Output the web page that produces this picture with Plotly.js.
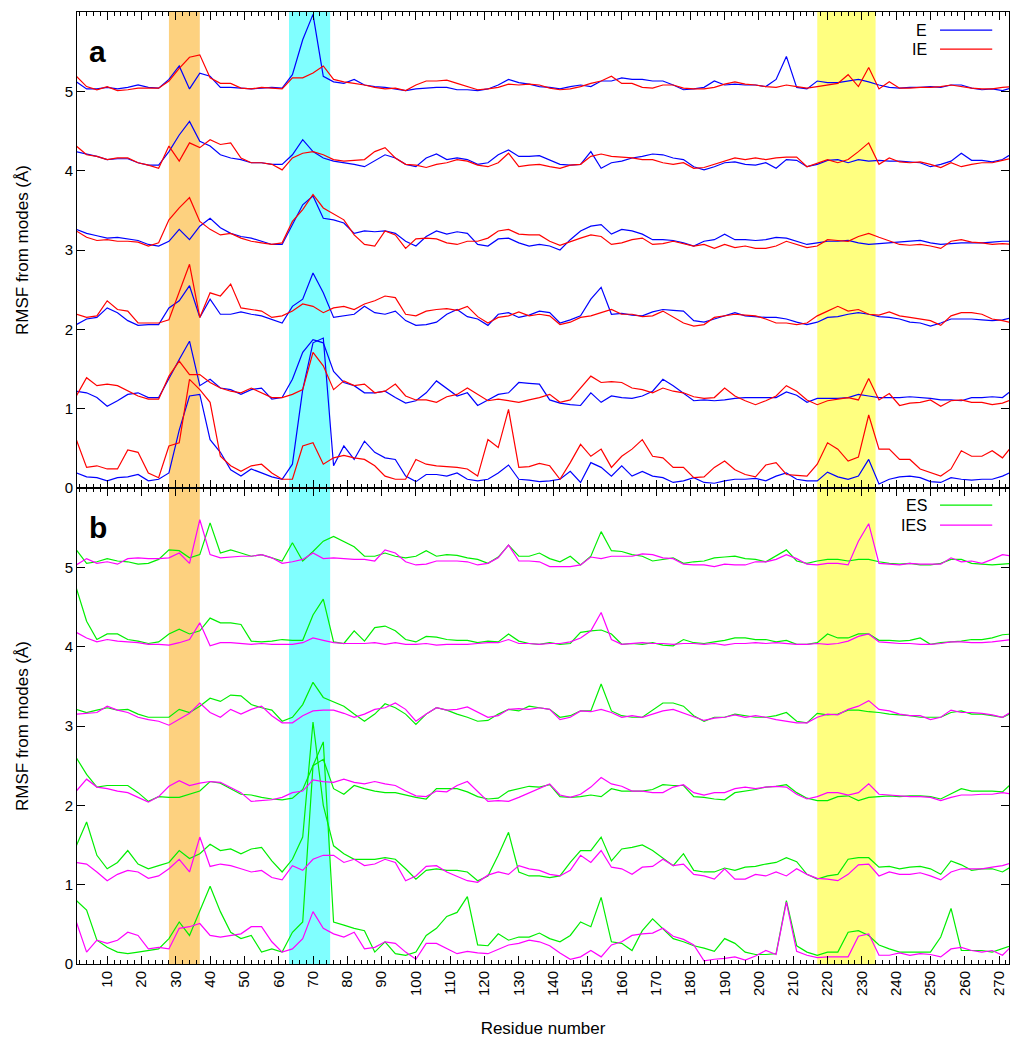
<!DOCTYPE html>
<html><head><meta charset="utf-8">
<script src="https://cdn.plot.ly/plotly-3.0.1.min.js"></script>
<style>body{margin:0;background:#fff}#chart{width:1010px;height:1040px}</style>
</head><body><div id="chart"></div>
<script>
// Sampled residue numbers
const residues = [1,4,7,10,13,16,19,22,25,28,31,34,37,40,43,46,49,52,55,58,61,64,67,70,73,76,79,82,85,88,91,
94,97,100,103,106,109,112,115,118,121,124,127,130,133,136,139,142,145,148,151,154,157,160,163,166,169,172,175,178,181,
184,187,190,193,196,199,202,205,208,211,214,217,220,223,226,229,232,235,238,241,244,247,250,253,256,259,262,265,268,271,274];

// Vertical offset applied to each mode (modes 1..6 stacked)
const modeOffsets = [0,1,2,3,4,5];

// Highlighted residue ranges
const bandStarts = [28, 63, 217];
const bandEnds   = [37, 75, 234];

// Panel a: E (blue) and IE (red), RMSF per mode (before offset)
const E0 = [0.19,0.14,0.13,0.09,0.13,0.14,0.17,0.09,0.11,0.19,0.73,1.16,1.18,0.61,0.45,0.23,0.15,0.24,0.19,0.14,0.11,0.30,1.24,1.83,1.89,0.28,0.53,0.36,0.59,0.45,0.38,
0.36,0.15,0.08,0.17,0.17,0.15,0.19,0.11,0.09,0.11,0.19,0.29,0.11,0.10,0.08,0.09,0.11,0.21,0.07,0.32,0.26,0.15,0.28,0.15,0.21,0.15,0.13,0.07,0.09,0.13,
0.07,0.06,0.09,0.11,0.11,0.12,0.09,0.15,0.19,0.11,0.09,0.09,0.20,0.14,0.11,0.15,0.36,0.05,0.11,0.14,0.15,0.13,0.08,0.07,0.13,0.11,0.10,0.11,0.11,0.15,0.21];
const IE0 = [0.61,0.26,0.28,0.24,0.24,0.48,0.45,0.19,0.13,0.53,0.57,1.37,1.24,1.08,0.40,0.28,0.21,0.28,0.30,0.19,0.11,0.11,0.53,0.57,0.30,0.38,0.41,0.38,0.36,0.28,0.15,
0.11,0.11,0.36,0.30,0.28,0.27,0.26,0.24,0.15,0.61,0.51,0.99,0.26,0.27,0.31,0.28,0.11,0.32,0.55,0.40,0.49,0.26,0.40,0.49,0.61,0.40,0.38,0.26,0.26,0.13,
0.14,0.26,0.34,0.23,0.17,0.14,0.29,0.32,0.17,0.16,0.15,0.30,0.57,0.49,0.34,0.39,0.92,0.49,0.49,0.36,0.36,0.24,0.19,0.15,0.24,0.47,0.40,0.40,0.47,0.38,0.54];
const E1 = [0.22,0.20,0.14,0.03,0.10,0.18,0.20,0.14,0.14,0.39,0.62,0.85,0.29,0.37,0.26,0.24,0.18,0.24,0.26,0.12,0.14,0.37,0.71,0.87,0.83,0.47,0.33,0.29,0.20,0.20,0.22,
0.14,0.07,0.10,0.20,0.35,0.26,0.16,0.20,0.04,0.11,0.18,0.20,0.33,0.32,0.31,0.11,0.07,0.05,0.04,0.20,0.08,0.16,0.14,0.13,0.16,0.22,0.37,0.29,0.20,0.10,
0.11,0.10,0.11,0.13,0.14,0.14,0.14,0.14,0.21,0.17,0.08,0.13,0.13,0.13,0.14,0.18,0.16,0.14,0.14,0.14,0.15,0.14,0.13,0.11,0.11,0.10,0.14,0.14,0.15,0.14,0.24];
const IE1 = [0.16,0.39,0.29,0.31,0.29,0.22,0.16,0.12,0.12,0.41,0.60,0.43,0.43,0.33,0.26,0.22,0.20,0.26,0.20,0.14,0.14,0.18,0.24,0.71,0.54,0.24,0.35,0.29,0.31,0.20,0.22,
0.31,0.16,0.11,0.11,0.08,0.15,0.18,0.26,0.18,0.10,0.12,0.10,0.08,0.11,0.14,0.18,0.08,0.11,0.26,0.41,0.33,0.34,0.33,0.26,0.24,0.20,0.26,0.22,0.20,0.15,
0.13,0.14,0.26,0.16,0.10,0.05,0.10,0.16,0.29,0.22,0.11,0.05,0.10,0.12,0.14,0.11,0.38,0.11,0.19,0.04,0.07,0.08,0.11,0.03,0.10,0.11,0.08,0.08,0.05,0.07,0.12];
const E2 = [0.06,0.13,0.15,0.27,0.21,0.11,0.05,0.06,0.06,0.27,0.36,0.55,0.15,0.38,0.19,0.19,0.22,0.19,0.17,0.12,0.08,0.29,0.38,0.71,0.46,0.15,0.17,0.19,0.29,0.21,0.19,
0.23,0.11,0.05,0.06,0.09,0.19,0.25,0.16,0.13,0.05,0.19,0.21,0.15,0.18,0.23,0.21,0.08,0.12,0.17,0.38,0.53,0.19,0.20,0.18,0.17,0.22,0.25,0.24,0.23,0.11,
0.09,0.13,0.17,0.21,0.17,0.16,0.15,0.15,0.13,0.09,0.06,0.09,0.15,0.16,0.19,0.21,0.19,0.16,0.15,0.13,0.09,0.08,0.04,0.08,0.13,0.13,0.13,0.12,0.11,0.12,0.15];
const IE2 = [0.19,0.15,0.17,0.36,0.25,0.23,0.08,0.08,0.08,0.12,0.46,0.82,0.15,0.46,0.42,0.57,0.27,0.25,0.23,0.15,0.17,0.23,0.32,0.29,0.21,0.27,0.29,0.25,0.32,0.36,0.42,
0.40,0.19,0.17,0.23,0.25,0.26,0.24,0.29,0.16,0.08,0.15,0.17,0.22,0.17,0.19,0.17,0.06,0.09,0.15,0.17,0.21,0.25,0.19,0.19,0.16,0.17,0.23,0.16,0.08,0.04,
0.06,0.15,0.17,0.19,0.18,0.17,0.13,0.08,0.08,0.06,0.08,0.17,0.23,0.29,0.23,0.25,0.19,0.18,0.22,0.17,0.15,0.13,0.11,0.05,0.17,0.21,0.21,0.19,0.13,0.11,0.08];
const E3 = [0.26,0.21,0.18,0.15,0.16,0.14,0.12,0.07,0.05,0.11,0.26,0.13,0.30,0.40,0.28,0.21,0.17,0.15,0.11,0.07,0.07,0.32,0.57,0.68,0.40,0.38,0.34,0.21,0.24,0.23,0.24,
0.21,0.11,0.05,0.17,0.24,0.20,0.23,0.21,0.07,0.05,0.14,0.15,0.09,0.05,0.07,0.05,0.00,0.13,0.24,0.30,0.32,0.20,0.26,0.24,0.20,0.13,0.13,0.12,0.09,0.05,
0.11,0.13,0.20,0.13,0.13,0.12,0.13,0.16,0.15,0.11,0.07,0.09,0.11,0.11,0.12,0.09,0.07,0.08,0.09,0.10,0.11,0.12,0.09,0.07,0.08,0.09,0.09,0.09,0.10,0.11,0.11];
const IE3 = [0.24,0.16,0.12,0.13,0.11,0.11,0.10,0.05,0.09,0.38,0.53,0.66,0.36,0.26,0.19,0.21,0.15,0.11,0.09,0.07,0.09,0.36,0.51,0.70,0.53,0.45,0.38,0.19,0.07,0.05,0.24,
0.19,0.02,0.14,0.15,0.14,0.09,0.07,0.11,0.11,0.15,0.24,0.26,0.20,0.19,0.19,0.11,0.06,0.11,0.15,0.19,0.17,0.07,0.09,0.13,0.15,0.07,0.08,0.11,0.08,0.05,
0.07,0.02,0.07,0.03,0.05,0.02,0.02,0.05,0.11,0.07,0.03,0.05,0.13,0.12,0.11,0.17,0.21,0.16,0.11,0.07,0.06,0.07,0.05,0.02,0.11,0.13,0.10,0.09,0.07,0.08,0.07];
const E4 = [0.24,0.21,0.18,0.14,0.15,0.15,0.10,0.07,0.07,0.24,0.45,0.62,0.37,0.31,0.20,0.16,0.14,0.10,0.10,0.08,0.08,0.20,0.39,0.24,0.16,0.12,0.10,0.08,0.05,0.12,0.20,
0.16,0.08,0.05,0.16,0.21,0.14,0.16,0.14,0.08,0.10,0.20,0.26,0.18,0.18,0.19,0.14,0.08,0.07,0.08,0.24,0.03,0.10,0.12,0.16,0.18,0.21,0.20,0.16,0.14,0.05,
0.01,0.05,0.10,0.11,0.08,0.07,0.10,0.03,0.14,0.13,0.05,0.08,0.13,0.14,0.10,0.14,0.12,0.13,0.12,0.12,0.11,0.10,0.05,0.08,0.12,0.22,0.13,0.13,0.11,0.14,0.22];
const IE4 = [0.31,0.20,0.18,0.14,0.16,0.16,0.10,0.07,0.03,0.31,0.12,0.35,0.29,0.39,0.33,0.35,0.16,0.10,0.10,0.08,0.01,0.16,0.22,0.24,0.20,0.14,0.12,0.13,0.14,0.24,0.29,
0.16,0.08,0.07,0.04,0.08,0.10,0.14,0.12,0.07,0.05,0.10,0.22,0.05,0.07,0.08,0.05,0.03,0.07,0.08,0.18,0.21,0.18,0.17,0.16,0.14,0.14,0.10,0.08,0.10,0.03,
0.04,0.08,0.12,0.16,0.14,0.16,0.14,0.16,0.17,0.17,0.05,0.10,0.14,0.10,0.14,0.24,0.35,0.08,0.16,0.11,0.10,0.11,0.08,0.04,0.10,0.05,0.08,0.10,0.10,0.13,0.16];
const E5 = [0.12,0.03,0.03,0.05,0.03,0.05,0.08,0.05,0.04,0.15,0.32,0.03,0.23,0.19,0.05,0.05,0.04,0.03,0.04,0.05,0.04,0.21,0.65,0.97,0.19,0.12,0.10,0.15,0.08,0.06,0.05,
0.03,0.01,0.03,0.04,0.05,0.05,0.02,0.02,0.01,0.03,0.08,0.15,0.11,0.09,0.06,0.05,0.03,0.06,0.08,0.06,0.13,0.13,0.17,0.15,0.15,0.13,0.13,0.08,0.02,0.03,
0.05,0.13,0.08,0.09,0.08,0.08,0.06,0.15,0.44,0.05,0.03,0.13,0.11,0.11,0.13,0.15,0.12,0.08,0.05,0.04,0.05,0.05,0.06,0.05,0.08,0.08,0.04,0.02,0.03,0.01,0.05];
const IE5 = [0.19,0.06,0.02,0.06,0.01,0.02,0.04,0.04,0.04,0.13,0.29,0.43,0.46,0.17,0.10,0.10,0.04,0.03,0.05,0.04,0.03,0.17,0.17,0.23,0.32,0.15,0.12,0.10,0.08,0.05,0.03,
0.04,0.01,0.08,0.13,0.13,0.14,0.10,0.06,0.02,0.03,0.05,0.09,0.08,0.09,0.08,0.04,0.02,0.03,0.06,0.10,0.13,0.19,0.10,0.10,0.05,0.04,0.08,0.08,0.04,0.03,
0.03,0.05,0.09,0.12,0.09,0.08,0.06,0.05,0.08,0.06,0.04,0.06,0.08,0.10,0.21,0.06,0.30,0.03,0.12,0.04,0.04,0.05,0.05,0.06,0.08,0.06,0.04,0.03,0.03,0.05,0.06];

// Panel b: ES (green) and IES (magenta)
const ES0 = [0.80,0.68,0.30,0.21,0.15,0.13,0.15,0.17,0.19,0.32,0.53,0.36,0.68,0.98,0.66,0.40,0.32,0.36,0.15,0.19,0.15,0.40,0.53,2.50,2.80,0.53,0.49,0.45,0.42,0.15,0.28,
0.13,0.11,0.15,0.36,0.45,0.60,0.65,0.85,0.24,0.23,0.38,0.30,0.34,0.34,0.39,0.32,0.28,0.36,0.53,0.47,0.84,0.28,0.26,0.17,0.42,0.57,0.45,0.32,0.28,0.23,
0.20,0.16,0.32,0.26,0.15,0.12,0.12,0.13,0.80,0.23,0.15,0.11,0.15,0.15,0.40,0.42,0.36,0.24,0.19,0.15,0.15,0.15,0.15,0.34,0.70,0.17,0.17,0.17,0.15,0.19,0.24];
const IES0 = [0.53,0.15,0.30,0.26,0.30,0.40,0.36,0.19,0.21,0.19,0.45,0.47,0.51,0.36,0.34,0.36,0.38,0.47,0.47,0.28,0.15,0.19,0.32,0.66,0.45,0.38,0.34,0.40,0.19,0.21,0.28,
0.26,0.15,0.06,0.26,0.26,0.19,0.13,0.16,0.14,0.13,0.18,0.24,0.26,0.30,0.28,0.23,0.14,0.06,0.09,0.17,0.09,0.24,0.28,0.36,0.38,0.39,0.45,0.35,0.31,0.24,
0.04,0.06,0.07,0.09,0.05,0.10,0.17,0.12,0.78,0.16,0.11,0.08,0.09,0.09,0.09,0.35,0.38,0.11,0.11,0.14,0.11,0.13,0.12,0.09,0.19,0.21,0.17,0.15,0.17,0.11,0.24];
const ES1 = [0.49,0.79,0.37,0.20,0.28,0.43,0.26,0.20,0.24,0.28,0.43,0.33,0.39,0.51,0.43,0.45,0.39,0.45,0.47,0.30,0.16,0.32,0.60,2.05,1.00,0.49,0.39,0.32,0.32,0.32,0.34,
0.32,0.20,0.07,0.18,0.20,0.18,0.18,0.16,0.05,0.11,0.37,0.66,0.16,0.11,0.11,0.09,0.11,0.28,0.43,0.43,0.60,0.30,0.45,0.47,0.50,0.43,0.34,0.24,0.39,0.18,
0.16,0.16,0.21,0.18,0.22,0.23,0.26,0.28,0.34,0.29,0.13,0.07,0.11,0.13,0.32,0.34,0.34,0.22,0.23,0.20,0.22,0.23,0.20,0.13,0.30,0.25,0.18,0.20,0.20,0.16,0.24];
const IES1 = [0.28,0.26,0.16,0.05,0.13,0.18,0.16,0.08,0.11,0.20,0.32,0.16,0.60,0.23,0.26,0.24,0.20,0.16,0.18,0.09,0.06,0.24,0.18,0.32,0.37,0.37,0.28,0.32,0.24,0.26,0.32,
0.28,0.05,0.11,0.23,0.24,0.16,0.11,0.05,0.03,0.12,0.16,0.13,0.24,0.20,0.18,0.13,0.11,0.18,0.37,0.28,0.43,0.22,0.20,0.13,0.22,0.23,0.32,0.24,0.26,0.13,
0.11,0.07,0.20,0.07,0.07,0.13,0.11,0.16,0.11,0.20,0.13,0.08,0.07,0.05,0.13,0.25,0.26,0.11,0.16,0.13,0.13,0.15,0.11,0.06,0.16,0.20,0.20,0.20,0.22,0.24,0.28];
const ES2 = [0.60,0.39,0.23,0.25,0.25,0.25,0.16,0.05,0.11,0.10,0.10,0.14,0.18,0.30,0.28,0.21,0.14,0.13,0.10,0.08,0.07,0.09,0.20,0.50,0.58,0.21,0.14,0.25,0.21,0.18,0.16,
0.16,0.13,0.10,0.08,0.21,0.21,0.21,0.17,0.11,0.08,0.09,0.18,0.21,0.24,0.23,0.26,0.11,0.10,0.11,0.13,0.11,0.21,0.18,0.18,0.18,0.20,0.26,0.25,0.25,0.11,
0.10,0.08,0.07,0.16,0.18,0.20,0.23,0.24,0.26,0.16,0.09,0.06,0.06,0.11,0.12,0.06,0.10,0.11,0.12,0.11,0.12,0.12,0.11,0.08,0.14,0.21,0.18,0.18,0.18,0.17,0.29];
const IES2 = [0.18,0.33,0.23,0.21,0.18,0.16,0.10,0.04,0.11,0.24,0.31,0.25,0.28,0.30,0.29,0.23,0.16,0.05,0.06,0.07,0.10,0.16,0.18,0.32,0.30,0.29,0.33,0.29,0.27,0.30,0.27,
0.25,0.18,0.12,0.11,0.18,0.17,0.25,0.30,0.18,0.05,0.06,0.05,0.10,0.16,0.21,0.27,0.13,0.10,0.14,0.23,0.35,0.27,0.24,0.18,0.18,0.16,0.16,0.23,0.26,0.16,
0.13,0.16,0.16,0.21,0.23,0.21,0.23,0.24,0.23,0.14,0.08,0.11,0.16,0.16,0.13,0.16,0.27,0.14,0.13,0.12,0.11,0.11,0.10,0.06,0.10,0.13,0.13,0.14,0.14,0.16,0.14];
const ES3 = [0.21,0.17,0.20,0.23,0.20,0.21,0.15,0.11,0.11,0.11,0.21,0.17,0.25,0.35,0.31,0.39,0.38,0.27,0.23,0.20,0.06,0.11,0.27,0.55,0.36,0.31,0.25,0.15,0.06,0.15,0.28,
0.23,0.15,0.02,0.15,0.23,0.20,0.15,0.11,0.06,0.07,0.15,0.21,0.19,0.25,0.23,0.21,0.11,0.13,0.19,0.19,0.53,0.19,0.13,0.11,0.11,0.20,0.29,0.29,0.25,0.13,
0.06,0.11,0.11,0.15,0.13,0.11,0.11,0.13,0.17,0.06,0.04,0.16,0.14,0.15,0.20,0.20,0.18,0.17,0.15,0.14,0.13,0.11,0.11,0.11,0.17,0.19,0.15,0.15,0.13,0.11,0.17];
const IES3 = [0.15,0.16,0.17,0.25,0.20,0.17,0.11,0.08,0.06,0.01,0.08,0.16,0.29,0.17,0.11,0.21,0.15,0.21,0.25,0.13,0.04,0.04,0.13,0.19,0.20,0.20,0.16,0.11,0.15,0.21,0.23,
0.29,0.21,0.06,0.15,0.23,0.20,0.21,0.24,0.17,0.11,0.13,0.21,0.22,0.21,0.23,0.21,0.08,0.11,0.19,0.18,0.21,0.17,0.11,0.13,0.11,0.15,0.19,0.21,0.16,0.11,
0.07,0.10,0.11,0.14,0.11,0.13,0.11,0.08,0.06,0.04,0.04,0.11,0.15,0.14,0.21,0.25,0.32,0.21,0.19,0.15,0.13,0.13,0.08,0.11,0.20,0.17,0.17,0.16,0.14,0.11,0.19];
const ES4 = [0.74,0.32,0.09,0.16,0.16,0.09,0.07,0.04,0.06,0.16,0.22,0.16,0.20,0.36,0.30,0.30,0.28,0.07,0.06,0.07,0.09,0.08,0.08,0.40,0.60,0.06,0.04,0.20,0.07,0.24,0.26,
0.20,0.09,0.06,0.13,0.12,0.09,0.08,0.08,0.05,0.07,0.06,0.16,0.07,0.04,0.03,0.05,0.03,0.04,0.18,0.20,0.21,0.16,0.03,0.04,0.03,0.05,0.02,0.01,0.09,0.05,
0.04,0.06,0.08,0.11,0.11,0.09,0.09,0.06,0.08,0.03,0.03,0.05,0.16,0.11,0.11,0.16,0.16,0.08,0.08,0.07,0.08,0.11,0.03,0.05,0.06,0.07,0.09,0.09,0.11,0.15,0.16];
const IES4 = [0.18,0.11,0.06,0.09,0.07,0.06,0.05,0.03,0.03,0.02,0.05,0.09,0.30,0.01,0.05,0.05,0.04,0.03,0.04,0.03,0.03,0.03,0.05,0.11,0.08,0.05,0.04,0.04,0.04,0.05,0.03,
0.05,0.03,0.03,0.04,0.02,0.03,0.03,0.03,0.04,0.05,0.05,0.09,0.04,0.04,0.03,0.04,0.04,0.06,0.11,0.20,0.43,0.09,0.03,0.04,0.05,0.04,0.04,0.03,0.04,0.04,
0.03,0.04,0.02,0.04,0.04,0.05,0.04,0.05,0.04,0.03,0.03,0.04,0.03,0.04,0.07,0.13,0.16,0.06,0.05,0.04,0.04,0.03,0.03,0.04,0.06,0.06,0.05,0.05,0.06,0.07,0.09];
const ES5 = [0.22,0.05,0.07,0.11,0.08,0.07,0.04,0.05,0.10,0.22,0.21,0.12,0.16,0.56,0.18,0.22,0.18,0.14,0.16,0.12,0.08,0.31,0.08,0.20,0.33,0.39,0.33,0.26,0.14,0.14,0.18,
0.14,0.12,0.14,0.21,0.14,0.16,0.15,0.12,0.10,0.05,0.13,0.28,0.14,0.14,0.18,0.11,0.07,0.14,0.03,0.14,0.45,0.21,0.20,0.16,0.14,0.08,0.10,0.12,0.05,0.07,
0.08,0.12,0.13,0.14,0.11,0.10,0.07,0.14,0.22,0.08,0.05,0.08,0.10,0.10,0.08,0.10,0.10,0.07,0.05,0.04,0.05,0.03,0.03,0.05,0.10,0.10,0.05,0.04,0.03,0.04,0.05];
const IES5 = [0.03,0.11,0.05,0.07,0.04,0.11,0.12,0.11,0.11,0.12,0.18,0.05,0.60,0.16,0.12,0.13,0.14,0.14,0.16,0.12,0.05,0.07,0.10,0.18,0.11,0.12,0.11,0.10,0.10,0.08,0.22,
0.18,0.07,0.03,0.04,0.08,0.08,0.08,0.07,0.03,0.05,0.12,0.28,0.08,0.08,0.07,0.01,0.01,0.01,0.03,0.13,0.11,0.14,0.14,0.14,0.17,0.16,0.12,0.11,0.04,0.03,
0.03,0.01,0.04,0.03,0.03,0.07,0.07,0.10,0.16,0.11,0.04,0.03,0.05,0.05,0.03,0.33,0.55,0.05,0.04,0.03,0.05,0.04,0.04,0.04,0.12,0.07,0.08,0.05,0.10,0.16,0.14];

const seriesA1 = [E0,E1,E2,E3,E4,E5];
const seriesA2 = [IE0,IE1,IE2,IE3,IE4,IE5];
const seriesB1 = [ES0,ES1,ES2,ES3,ES4,ES5];
const seriesB2 = [IES0,IES1,IES2,IES3,IES4,IES5];
const legendNames = ['E','IE','ES','IES'];

const COL = {E:'#0000ff', IE:'#ff0000', ES:'#00ee00', IES:'#ff00ff'};
const bandColors = ['#fdd17f','#80ffff','#ffff80'];

const traces = [];
function addSet(sets, color, xa, ya){
  sets.forEach((vals, i) => {
    traces.push({
      x: residues, y: vals.map(v => v + modeOffsets[i]),
      type:'scatter', mode:'lines', xaxis:xa, yaxis:ya,
      line:{color:color, width:1.2}, showlegend:false, hoverinfo:'skip'
    });
  });
}
addSet(seriesA1, COL.E, 'x2', 'y');
addSet(seriesA2, COL.IE, 'x2', 'y');
addSet(seriesB1, COL.ES, 'x', 'y2');
addSet(seriesB2, COL.IES, 'x', 'y2');

const FONT = 'Liberation Sans, Arial, Helvetica, sans-serif';

const shapes = bandStarts.map((s, i) => ({
  type:'rect', xref:'x', yref:'paper', x0:s, x1:bandEnds[i], y0:0, y1:1,
  fillcolor:bandColors[i], line:{width:0}, layer:'below'
}));
// custom legend samples
const legY = [0.981, 0.961, 0.482, 0.461];
const legCol = [COL.E, COL.IE, COL.ES, COL.IES];
legY.forEach((y, i) => shapes.push({type:'line', xref:'paper', yref:'paper',
  x0:0.926, x1:0.982, y0:y, y1:y, line:{color:legCol[i], width:1.2}}));

const annotations = legendNames.map((n, i) => ({
  text:n, xref:'paper', yref:'paper', x:0.913, y:legY[i], xanchor:'right', yanchor:'middle',
  showarrow:false, font:{family:FONT, size:16, color:'#000'}, borderpad:0
}));
annotations.push({text:'<b>a</b>', xref:'paper', yref:'paper', x:0.0225, y:0.958, xanchor:'center', yanchor:'middle', showarrow:false, font:{family:FONT, size:30, color:'#000'}});
annotations.push({text:'<b>b</b>', xref:'paper', yref:'paper', x:0.0225, y:0.458, xanchor:'center', yanchor:'middle', showarrow:false, font:{family:FONT, size:30, color:'#000'}});

const xCommon = {
  range:[1.2, 272.9], tick0:0, dtick:10, tickmode:'linear', ticks:'inside', ticklen:8, tickwidth:1, tickcolor:'#000',
  showline:true, linecolor:'#000', linewidth:1, mirror:'ticks', showgrid:false, zeroline:false,
  minor:{tick0:0, dtick:2, ticks:'inside', ticklen:4, tickcolor:'#000', showgrid:false},
  tickfont:{family:FONT, size:15, color:'#000'}
};
const yCommon = {
  range:[0,6], tickvals:[0,1,2,3,4,5], ticks:'inside', ticklen:8, tickwidth:1, tickcolor:'#000',
  showline:true, linecolor:'#000', linewidth:1, mirror:'ticks', showgrid:false, zeroline:false,
  tickfont:{family:FONT, size:15, color:'#000'},
  title:{text:'RMSF from modes (Å)', font:{family:FONT, size:17, color:'#000'}, standoff:31}
};

const layout = {
  width:1010, height:1040,
  margin:{l:77, r:1, t:12, b:76},
  paper_bgcolor:'#fff', plot_bgcolor:'rgba(0,0,0,0)',
  showlegend:false,
  xaxis: Object.assign({}, xCommon, {anchor:'y2', tickangle:-90,
    title:{text:'Residue number', font:{family:FONT, size:17, color:'#000'}, standoff:27}}),
  xaxis2: Object.assign({}, xCommon, {anchor:'y', matches:'x', showticklabels:false}),
  yaxis: Object.assign({}, yCommon, {domain:[0.5,1], anchor:'x2'}),
  yaxis2: Object.assign({}, yCommon, {domain:[0,0.5], anchor:'x'}),
  shapes:shapes, annotations:annotations
};

Plotly.newPlot('chart', traces, layout, {staticPlot:true, displayModeBar:false});
</script>
</body></html>
